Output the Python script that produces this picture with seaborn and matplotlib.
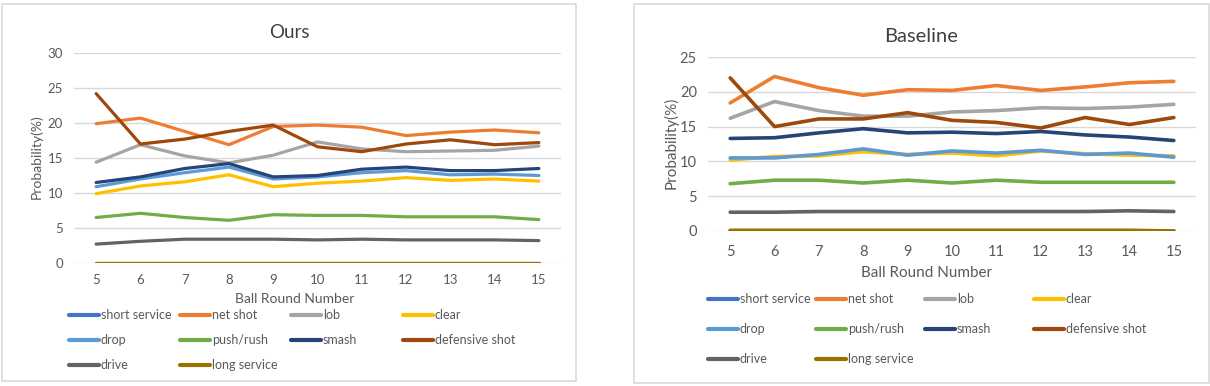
import numpy as np
import pandas as pd
import seaborn as sns
import matplotlib.pyplot as plt
from matplotlib.patches import Rectangle

rounds = [5, 6, 7, 8, 9, 10, 11, 12, 13, 14, 15]
shots = ["short service", "net shot", "lob", "clear", "drop",
         "push/rush", "smash", "defensive shot", "drive", "long service"]
colors = ["#4472C4", "#ED7D31", "#A5A5A5", "#FFC000", "#5B9BD5",
          "#70AD47", "#264478", "#9E480E", "#636363", "#997300"]

# Ours
ours_short_service = [0.0, 0.0, 0.0, 0.0, 0.0, 0.0, 0.0, 0.0, 0.0, 0.0, 0.0]
ours_net_shot = [19.9, 20.7, 18.8, 16.9, 19.5, 19.7, 19.4, 18.2, 18.7, 19.0, 18.6]
ours_lob = [14.4, 16.9, 15.3, 14.3, 15.4, 17.3, 16.3, 15.9, 16.0, 16.1, 16.7]
ours_clear = [9.9, 11.0, 11.6, 12.6, 10.9, 11.4, 11.7, 12.2, 11.8, 12.0, 11.7]
ours_drop = [10.9, 12.0, 12.9, 13.7, 12.0, 12.3, 12.9, 13.2, 12.6, 12.7, 12.5]
ours_push_rush = [6.5, 7.1, 6.5, 6.1, 6.9, 6.8, 6.8, 6.6, 6.6, 6.6, 6.2]
ours_smash = [11.5, 12.3, 13.5, 14.2, 12.3, 12.5, 13.4, 13.7, 13.2, 13.2, 13.5]
ours_defensive = [24.2, 17.0, 17.7, 18.8, 19.7, 16.6, 15.9, 17.0, 17.6, 16.9, 17.2]
ours_drive = [2.7, 3.1, 3.4, 3.4, 3.4, 3.3, 3.4, 3.3, 3.3, 3.3, 3.2]
ours_long_service = [0.0, 0.0, 0.0, 0.0, 0.0, 0.0, 0.0, 0.0, 0.0, 0.0, 0.0]

# Baseline
base_short_service = [0.0, 0.0, 0.0, 0.0, 0.0, 0.0, 0.0, 0.0, 0.0, 0.0, 0.0]
base_net_shot = [18.4, 22.2, 20.6, 19.5, 20.3, 20.2, 20.9, 20.2, 20.7, 21.3, 21.5]
base_lob = [16.2, 18.6, 17.3, 16.5, 16.5, 17.1, 17.3, 17.7, 17.6, 17.8, 18.2]
base_clear = [10.2, 10.7, 10.8, 11.4, 11.0, 11.2, 10.8, 11.5, 11.1, 10.9, 10.8]
base_drop = [10.5, 10.5, 11.0, 11.8, 10.9, 11.5, 11.2, 11.6, 11.0, 11.2, 10.6]
base_push_rush = [6.8, 7.3, 7.3, 6.9, 7.3, 6.9, 7.3, 7.0, 7.0, 7.0, 7.0]
base_smash = [13.3, 13.4, 14.1, 14.7, 14.1, 14.2, 14.0, 14.3, 13.8, 13.5, 13.0]
base_defensive = [22.0, 15.0, 16.1, 16.1, 17.0, 15.9, 15.6, 14.8, 16.3, 15.3, 16.3]
base_drive = [2.7, 2.7, 2.8, 2.8, 2.8, 2.8, 2.8, 2.8, 2.8, 2.9, 2.8]
base_long_service = [0.1, 0.1, 0.1, 0.1, 0.1, 0.1, 0.1, 0.1, 0.1, 0.1, 0.0]

ours = [ours_short_service, ours_net_shot, ours_lob, ours_clear, ours_drop,
        ours_push_rush, ours_smash, ours_defensive, ours_drive, ours_long_service]
base = [base_short_service, base_net_shot, base_lob, base_clear, base_drop,
        base_push_rush, base_smash, base_defensive, base_drive, base_long_service]


def to_long(series):
    rows = []
    for shot, vals in zip(shots, series):
        for r, v in zip(rounds, vals):
            rows.append({"Round": r, "Shot": shot, "Probability": v})
    return pd.DataFrame(rows)


sns.set_style("white")
plt.rcParams["font.family"] = ["Lato", "DejaVu Sans"]
txt = "#595959"
grid = "#D9D9D9"
palette = dict(zip(shots, colors))

fig = plt.figure(figsize=(12.1, 3.86), dpi=100)
W, H = 1210, 386


def fx(px):
    return px / W


def fy(py):
    return 1 - py / H


# panel borders
for x0, y0, x1, y1 in [(2, 4, 576, 381), (634, 4, 1209, 383)]:
    fig.patches.append(Rectangle((fx(x0), fy(y1)), fx(x1 - x0), (y1 - y0) / H,
                                 transform=fig.transFigure, fill=False,
                                 edgecolor=grid, linewidth=1.2))

panels = [
    dict(df=to_long(ours), title="Ours", box=(74, 53, 561, 263), ymax=30,
         cx=289, ty=32, xly=299, yl=(36, 157), fs=9.5, lw=2.3, xpad=8,
         leg_x=[69, 180, 291, 403], leg_y=309, lsp=1.05),
    dict(df=to_long(base), title="Baseline", box=(708, 57, 1196, 231), ymax=25,
         cx=921, ty=36, xly=273, yl=(671, 143), fs=10.5, lw=2.6, xpad=10,
         leg_x=[708, 816, 925, 1034], leg_y=293, lsp=1.45),
]

for p in panels:
    x0, y0, x1, y1 = p["box"]
    ax = fig.add_axes([fx(x0), fy(y1), fx(x1 - x0), (y1 - y0) / H])
    sns.lineplot(data=p["df"], x="Round", y="Probability", hue="Shot",
                 hue_order=shots, palette=palette, linewidth=p["lw"], ax=ax,
                 legend=True)
    handles, labels = ax.get_legend_handles_labels()
    ax.get_legend().remove()

    ax.set_xlim(4.5, 15.5)
    ax.set_ylim(0, p["ymax"])
    ax.set_xticks(rounds)
    ax.set_yticks(np.arange(0, p["ymax"] + 1, 5))
    ax.grid(axis="y", color=grid, linewidth=1)
    ax.set_axisbelow(True)
    for s in ax.spines.values():
        s.set_visible(False)
    ax.tick_params(length=0, labelsize=p["fs"], labelcolor=txt)
    ax.tick_params(axis="y", pad=8)
    ax.tick_params(axis="x", pad=p["xpad"])
    ax.set_xlabel("")
    ax.set_ylabel("")

    fig.text(fx(p["cx"]), fy(p["ty"]), p["title"], ha="center", va="center",
             fontsize=p["fs"] + 4, color="#404040")
    fig.text(fx(p["cx"] + 6), fy(p["xly"]), "Ball Round Number", ha="center",
             va="center", fontsize=p["fs"] + 0.5, color=txt)
    fig.text(fx(p["yl"][0]), fy(p["yl"][1]), "Probability(%)", ha="center",
             va="center", rotation=90, fontsize=p["fs"] + 0.5, color=txt)

    # legend in 4 columns with fixed column starts
    for j, lx in enumerate(p["leg_x"]):
        leg = fig.legend(handles[j::4], labels[j::4], loc="upper left",
                         bbox_to_anchor=(fx(lx), fy(p["leg_y"])),
                         frameon=False, fontsize=9, borderpad=0,
                         borderaxespad=0, handlelength=2.4, handletextpad=0.15,
                         labelspacing=p["lsp"], labelcolor=txt)
        for h in leg.legend_handles:
            h.set_linewidth(3)

fig.savefig("out.png", dpi=100)
